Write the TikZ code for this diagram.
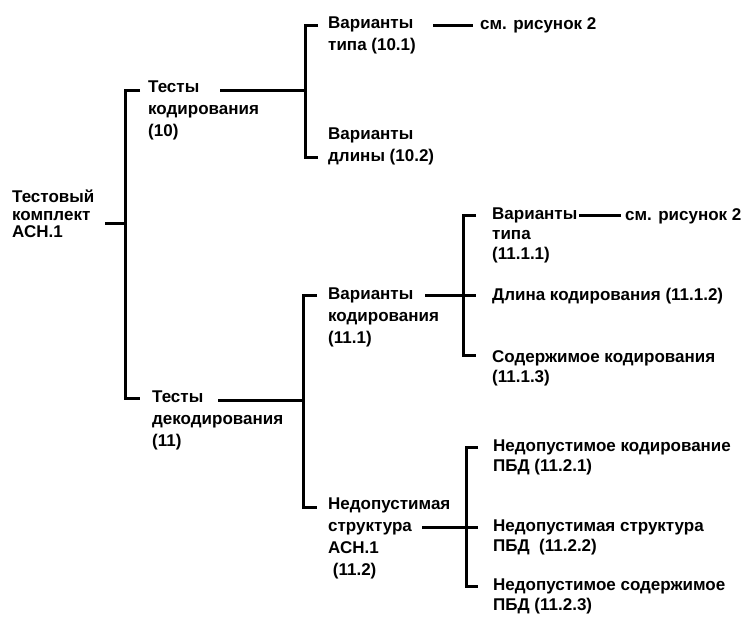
\documentclass[tikz,border=0pt]{standalone}
\usepackage{fontspec}
\setmainfont{Liberation Sans}
\begin{document}
\begin{tikzpicture}[x=1pt,y=-1pt,
  txt/.style={anchor=north west, inner sep=0pt, align=left, font=\bfseries\fontsize{17}{22}\selectfont},
  txtr/.style={txt, font=\bfseries\fontsize{17}{17.5}\selectfont},
  txts/.style={txt, font=\bfseries\fontsize{17}{20}\selectfont},
  conn/.style={line width=3pt, line join=miter}]
\useasboundingbox (0,0) rectangle (747,619);
% texts (positions: top-left of first line)
\node[txtr] (root) at (12,190) {Тестовый\\комплект\\АСН.1};
\node[txt] (t10) at (148,81) {Тесты\\кодирования\\(10)};
\node[txt] (v101) at (328,17) {Варианты\\типа (10.1)};
\node[txt] (see1) at (480,17) {см. рисунок 2};
\node[txt] (v102) at (328,128) {Варианты\\длины (10.2)};
\node[txt] (t11) at (152,391) {Тесты\\декодирования\\(11)};
\node[txt] (v111) at (328,288) {Варианты\\кодирования\\(11.1)};
\node[txts] (v1111) at (492,208) {Варианты\\типа\\(11.1.1)};
\node[txt] (see2) at (625,208) {см. рисунок 2};
\node[txt] (l1112) at (492,288) {Длина кодирования (11.1.2)};
\node[txts] (s1113) at (492,350) {Содержимое кодирования\\(11.1.3)};
\node[txt] (n112) at (328,498) {Недопустимая\\структура\\АСН.1\\\ (11.2)};
\node[txts] (n1121) at (493,440) {Недопустимое кодирование\\ПБД (11.2.1)};
\node[txts] (n1122) at (493,520) {Недопустимая структура\\ПБД \ (11.2.2)};
\node[txts] (n1123) at (493,579) {Недопустимое содержимое\\ПБД (11.2.3)};
% junction coordinates
\coordinate (rootR) at (105,223);
\coordinate (b1m) at (125,223);
\coordinate (b1t) at (125,90);
\coordinate (b1tk) at (140,90);
\coordinate (b1b) at (125,398);
\coordinate (b1bk) at (140,398);
\coordinate (t10R) at (220,90);
\coordinate (b2m) at (305,90);
\coordinate (b2t) at (305,25);
\coordinate (b2tk) at (318,25);
\coordinate (b2b) at (305,157);
\coordinate (b2bk) at (318,157);
\coordinate (s1a) at (433,25);
\coordinate (s1b) at (473,25);
\coordinate (t11R) at (218,400);
\coordinate (b3m) at (303,400);
\coordinate (b3t) at (303,295);
\coordinate (b3tk) at (317,295);
\coordinate (b3b) at (303,507);
\coordinate (b3bk) at (317,507);
\coordinate (v111R) at (425,295);
\coordinate (b4m) at (463,295);
\coordinate (b4mk) at (476,295);
\coordinate (b4t) at (463,215);
\coordinate (b4tk) at (476,215);
\coordinate (b4b) at (463,355);
\coordinate (b4bk) at (476,355);
\coordinate (s2a) at (579,215);
\coordinate (s2b) at (621,215);
\coordinate (n112R) at (422,527);
\coordinate (b5m) at (466,527);
\coordinate (b5mk) at (478,527);
\coordinate (b5t) at (466,447);
\coordinate (b5tk) at (478,447);
\coordinate (b5b) at (466,586);
\coordinate (b5bk) at (478,586);
% connectors
\draw[conn] (rootR) -- (b1m);
\draw[conn] (b1tk) -- (b1t) -- (b1b) -- (b1bk);
\draw[conn] (t10R) -- (b2m);
\draw[conn] (b2tk) -- (b2t) -- (b2b) -- (b2bk);
\draw[conn] (s1a) -- (s1b);
\draw[conn] (t11R) -- (b3m);
\draw[conn] (b3tk) -- (b3t) -- (b3b) -- (b3bk);
\draw[conn] (v111R) -- (b4mk);
\draw[conn] (b4tk) -- (b4t) -- (b4b) -- (b4bk);
\draw[conn] (s2a) -- (s2b);
\draw[conn] (n112R) -- (b5mk);
\draw[conn] (b5tk) -- (b5t) -- (b5b) -- (b5bk);
\end{tikzpicture}
\end{document}
